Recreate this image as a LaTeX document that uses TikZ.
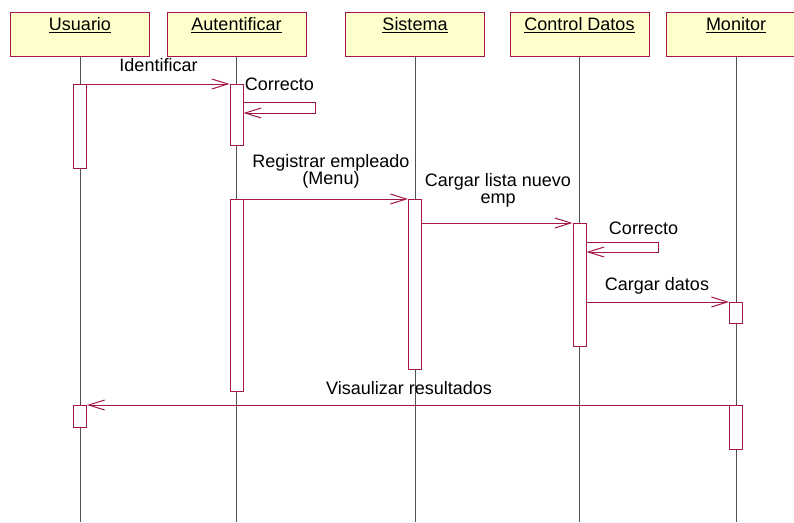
\documentclass[tikz,border=0pt]{standalone}
\usepackage{fontspec}
\setmainfont{Liberation Sans}
\usetikzlibrary{arrows.meta}
\definecolor{umlred}{HTML}{A3174A}
\definecolor{umlfill}{HTML}{FFFFCC}
\definecolor{lifegray}{HTML}{505050}
\begin{document}
\begin{tikzpicture}[x=1pt,y=-1pt,
  every node/.style={font=\fontsize{18}{17}\selectfont},
  head/.style={draw=umlred, fill=umlfill, line width=1pt, minimum width=139pt, minimum height=44pt, inner sep=0pt},
  title/.style={anchor=base, inner sep=0pt},
  act/.style={draw=umlred, fill=white, line width=1pt, minimum width=13pt, inner sep=0pt, anchor=north},
  life/.style={draw=lifegray, line width=1pt},
  msg/.style={draw=umlred, line width=1pt, -{Straight Barb[length=16pt,width=10pt]}},
  lbl/.style={anchor=base, inner sep=0pt, align=center},
]
\clip (0,0) rectangle (794,522);
\fill[white] (0,0) rectangle (794,522);
% headers
\node[head] (hu) at (80,34) {};
\node[head] (ha) at (236.5,34) {};
\node[head] (hs) at (415,34) {};
\node[head] (hc) at (579.5,34) {};
\node[head] (hm) at (736,34) {};
\node[title] (tu) at (80,30.7) {\underline{Usuario}};
\node[title] (ta) at (236.5,30.7) {\underline{Autentificar}};
\node[title] (ts) at (415,30.7) {\underline{Sistema}};
\node[title] (tc) at (579.5,30.7) {\underline{Control Datos}};
\node[title] (tm) at (736,30.7) {\underline{Monitor}};
% lifeline ends
\coordinate (eu) at (80,522);
\coordinate (ea) at (236.5,522);
\coordinate (es) at (415,522);
\coordinate (ec) at (579.5,522);
\coordinate (em) at (736,522);
\draw[life] (hu.south) -- (eu);
\draw[life] (ha.south) -- (ea);
\draw[life] (hs.south) -- (es);
\draw[life] (hc.south) -- (ec);
\draw[life] (hm.south) -- (em);
% activations
\node[act, minimum height=84pt] (u1) at (80,84) {};
\node[act, minimum height=61pt] (a1) at (236.5,84) {};
\node[act, minimum height=192pt] (a2) at (236.5,199) {};
\node[act, minimum height=170pt] (s1) at (415,199) {};
\node[act, minimum height=123pt] (c1) at (579.5,223) {};
\node[act, minimum height=21pt] (m1) at (736,302) {};
\node[act, minimum height=44pt] (m2) at (736,405) {};
\node[act, minimum height=22pt] (u2) at (80,405) {};
% self-loop corners
\coordinate (la1) at (315,102);
\coordinate (la2) at (315,113);
\coordinate (lc1) at (658,242);
\coordinate (lc2) at (658,252);
% messages
\draw[msg] (u1.north east) -- (a1.north west);
\draw[msg] (a1.east |- la1) -- (la1) -- (la2) -- (a1.east |- la2);
\draw[msg] (a2.north east) -- (s1.north west);
\draw[msg] (s1.east |- c1.north) -- (c1.north west);
\draw[msg] (c1.east |- lc1) -- (lc1) -- (lc2) -- (c1.east |- lc2);
\draw[msg] (c1.east |- m1.north) -- (m1.north west);
\draw[msg] (m2.north west) -- (u2.north east);
% labels
\node[lbl] (lid) at (158.5,71) {Identificar};
\node[lbl] (lco1) at (279.5,90) {Correcto};
\node[lbl] (lreg) at (331,184) {Registrar empleado\\(Menu)};
\node[lbl] (lcar) at (498,203) {Cargar lista nuevo\\emp};
\node[lbl] (lco2) at (643.5,234) {Correcto};
\node[lbl] (ldat) at (657,290) {Cargar datos};
\node[lbl] (lvis) at (409,394) {Visaulizar resultados};
\end{tikzpicture}
\end{document}
